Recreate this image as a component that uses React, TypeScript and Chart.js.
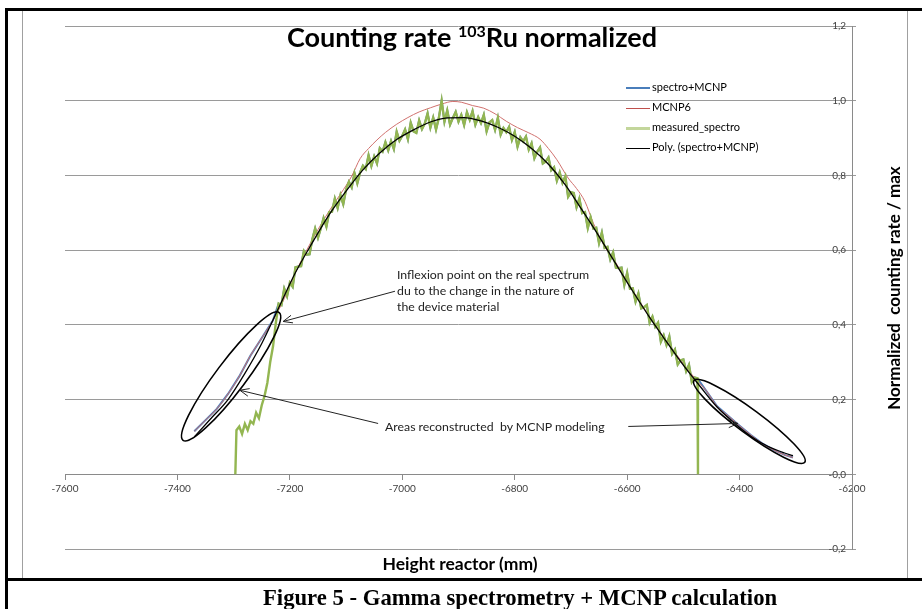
import React, { useEffect, useRef } from 'react';
import { Chart, registerables } from 'chart.js';

Chart.register(...registerables);

// ---- axes ----
const X_MIN = -7600;
const X_MAX = -6200;
const X_STEP = 200;
const Y_MIN = -0.2;
const Y_MAX = 1.2;
const Y_STEP = 0.2;

// ---- MCNP6 calculation ----
const mcnpHeights = [-7370, -7350, -7330, -7310, -7290, -7270, -7250, -7230, -7210, -7190, -7170, -7150, -7130, -7110, -7090, -7075, -7060, -7045, -7030, -7010, -6990, -6970, -6950, -6930, -6910, -6895, -6875, -6855, -6835, -6815, -6795, -6775, -6755, -6740, -6725, -6705, -6690, -6675, -6660, -6640, -6620, -6600, -6580, -6560, -6540, -6520, -6500, -6480, -6460, -6440, -6420, -6400, -6380, -6360, -6340, -6320, -6305];
const mcnpValues = [0.115, 0.145, 0.175, 0.215, 0.262, 0.318, 0.365, 0.412, 0.470, 0.540, 0.600, 0.655, 0.705, 0.750, 0.798, 0.845, 0.872, 0.895, 0.915, 0.937, 0.955, 0.970, 0.981, 0.991, 0.998, 0.996, 0.987, 0.980, 0.965, 0.945, 0.928, 0.914, 0.897, 0.872, 0.842, 0.793, 0.765, 0.730, 0.672, 0.610, 0.566, 0.516, 0.468, 0.422, 0.378, 0.336, 0.296, 0.258, 0.225, 0.182, 0.156, 0.130, 0.105, 0.083, 0.066, 0.052, 0.045];

// ---- polynomial trend of spectro+MCNP ----
const polyHeights = [-7370, -7340, -7310, -7280, -7250, -7220, -7190, -7160, -7130, -7100, -7070, -7040, -7010, -6980, -6950, -6920, -6890, -6860, -6830, -6800, -6770, -6740, -6710, -6680, -6650, -6620, -6590, -6560, -6530, -6500, -6470, -6440, -6410, -6380, -6350, -6320, -6305];
const polyValues = [0.10, 0.15, 0.20, 0.27, 0.35, 0.445, 0.54, 0.62, 0.695, 0.758, 0.815, 0.860, 0.896, 0.922, 0.943, 0.954, 0.955, 0.946, 0.929, 0.905, 0.872, 0.830, 0.775, 0.707, 0.637, 0.563, 0.490, 0.420, 0.355, 0.292, 0.235, 0.180, 0.138, 0.102, 0.075, 0.057, 0.050];

// ---- measured spectrometry ----
const measuredLeftHeights = [-7297, -7295, -7290, -7285, -7280, -7275, -7270, -7265, -7260, -7255, -7250, -7245, -7240, -7235, -7230, -7225];
const measuredLeftValues = [0, 0.118, 0.128, 0.108, 0.135, 0.118, 0.142, 0.135, 0.165, 0.150, 0.185, 0.210, 0.245, 0.300, 0.342, 0.405];
const measuredStartHeight = -7220;
const measuredStepHeight = 5;
const measuredValues = [
  0.457, 0.453, 0.497, 0.477, 0.513, 0.502, 0.554, 0.556, 0.557, 0.598,
  0.588, 0.589, 0.629, 0.658, 0.633, 0.658, 0.686, 0.663, 0.702, 0.703,
  0.738, 0.713, 0.747, 0.723, 0.762, 0.783, 0.768, 0.806, 0.779, 0.808,
  0.826, 0.817, 0.854, 0.825, 0.851, 0.832, 0.873, 0.864, 0.889, 0.867,
  0.892, 0.871, 0.917, 0.893, 0.906, 0.923, 0.897, 0.941, 0.918, 0.914,
  0.947, 0.924, 0.939, 0.966, 0.928, 0.955, 0.923, 0.954, 1.000, 0.944,
  0.974, 0.936, 0.954, 0.970, 0.944, 0.962, 0.935, 0.969, 0.949, 0.972,
  0.936, 0.956, 0.940, 0.962, 0.918, 0.942, 0.948, 0.922, 0.954, 0.909,
  0.927, 0.916, 0.930, 0.895, 0.916, 0.877, 0.902, 0.891, 0.904, 0.869,
  0.886, 0.846, 0.863, 0.875, 0.832, 0.837, 0.848, 0.814, 0.822, 0.786,
  0.808, 0.780, 0.798, 0.743, 0.755, 0.753, 0.715, 0.738, 0.699, 0.702,
  0.659, 0.688, 0.658, 0.660, 0.619, 0.647, 0.606, 0.609, 0.575, 0.594,
  0.553, 0.552, 0.553, 0.507, 0.539, 0.497, 0.498, 0.462, 0.484, 0.444,
  0.447, 0.453, 0.406, 0.422, 0.395, 0.406, 0.355, 0.372, 0.346, 0.369,
  0.322, 0.334, 0.294, 0.305, 0.307, 0.276, 0.293, 0.247, 0.259, 0.257,
];
const measuredRightHeights = [-6474];
const measuredRightValues = [0];

// ---- annotations (data coordinates) ----
const ellipseNotes = [
  { from: [-7390, 0.091], to: [-7219, 0.433], halfWidth: 15 },
  { from: [-6481, 0.251], to: [-6284, 0.032], halfWidth: 12 },
];
const arrowNotes = [
  { from: [-7013, 0.49], to: [-7212, 0.409] },
  { from: [-7043, 0.136], to: [-7289, 0.225] },
  { from: [-6598, 0.128], to: [-6403, 0.136] },
];

const legendItems = [
  { label: 'spectro+MCNP', color: '#4A7EBB', width: 2 },
  { label: 'MCNP6', color: '#C0504D', width: 1 },
  { label: 'measured_spectro', color: '#C3D69B', width: 3 },
  { label: 'Poly. (spectro+MCNP)', color: '#000000', width: 1.2 },
];

type P = { x: number; y: number };
const zip = (xs: number[], ys: number[]): P[] => xs.map((x, i) => ({ x, y: ys[i] }));

const measuredMain: P[] = measuredValues.map((y, i) => ({ x: measuredStartHeight + i * measuredStepHeight, y }));
const measuredPoints: P[] = [
  ...zip(measuredLeftHeights, measuredLeftValues),
  ...measuredMain,
  ...zip(measuredRightHeights, measuredRightValues),
];
const mcnpPoints = zip(mcnpHeights, mcnpValues);
const spectroMcnpPoints: P[] = [
  ...mcnpPoints.filter((p) => p.x < measuredStartHeight),
  ...measuredMain,
  ...mcnpPoints.filter((p) => p.x > measuredStartHeight + (measuredValues.length - 1) * measuredStepHeight),
];
const polyPoints = zip(polyHeights, polyValues);

const notesPlugin = {
  id: 'notes',
  afterDatasetsDraw(chart: any) {
    const { ctx } = chart;
    const xs = chart.scales.x;
    const ys = chart.scales.y;
    const px = (v: number[]) => [xs.getPixelForValue(v[0]), ys.getPixelForValue(v[1])];
    ctx.save();
    ctx.strokeStyle = '#000';
    ctx.lineWidth = 1.6;
    for (const e of ellipseNotes) {
      const [x1, y1] = px(e.from);
      const [x2, y2] = px(e.to);
      ctx.beginPath();
      ctx.ellipse((x1 + x2) / 2, (y1 + y2) / 2, Math.hypot(x2 - x1, y2 - y1) / 2, e.halfWidth, Math.atan2(y2 - y1, x2 - x1), 0, Math.PI * 2);
      ctx.stroke();
    }
    ctx.strokeStyle = '#222';
    ctx.lineWidth = 1;
    for (const a of arrowNotes) {
      const [x1, y1] = px(a.from);
      const [x2, y2] = px(a.to);
      const ang = Math.atan2(y2 - y1, x2 - x1);
      ctx.beginPath();
      ctx.moveTo(x1, y1);
      ctx.lineTo(x2, y2);
      const L = 10;
      ctx.moveTo(x2 - L * Math.cos(ang - 0.4), y2 - L * Math.sin(ang - 0.4));
      ctx.lineTo(x2, y2);
      ctx.lineTo(x2 - L * Math.cos(ang + 0.4), y2 - L * Math.sin(ang + 0.4));
      ctx.stroke();
    }
    ctx.restore();
  },
};

export default function App() {
  const canvasRef = useRef<HTMLCanvasElement>(null);

  useEffect(() => {
    Chart.defaults.font.family = 'Lato, sans-serif';
    const chart = new Chart(canvasRef.current as HTMLCanvasElement, {
      type: 'line',
      data: {
        datasets: [
          { label: 'spectro+MCNP', data: spectroMcnpPoints, borderColor: '#4A7EBB', borderWidth: 2, pointRadius: 0, tension: 0, order: 4 },
          { label: 'MCNP6', data: mcnpPoints, borderColor: '#D0716E', borderWidth: 1, pointRadius: 0, cubicInterpolationMode: 'monotone', order: 3 },
          { label: 'measured_spectro', data: measuredPoints, borderColor: '#93B651', borderWidth: 2.4, pointRadius: 0, tension: 0, order: 2 },
          { label: 'Poly. (spectro+MCNP)', data: polyPoints, borderColor: '#000000', borderWidth: 1.3, pointRadius: 0, cubicInterpolationMode: 'monotone', order: 1 },
        ],
      },
      options: {
        responsive: false,
        maintainAspectRatio: false,
        devicePixelRatio: 1,
        animation: false,
        layout: { padding: { left: 65, right: 66, top: 26, bottom: 60 } },
        plugins: { legend: { display: false }, tooltip: { enabled: false }, title: { display: false } },
        scales: {
          x: {
            type: 'linear',
            min: X_MIN,
            max: X_MAX,
            position: { y: 0 } as any,
            ticks: { stepSize: X_STEP, color: '#404040', font: { size: 10 }, padding: 3, maxRotation: 0, callback: (v: any) => String(v) },
            grid: { display: true, drawOnChartArea: false, drawTicks: true, tickLength: 5, color: '#8a8a8a' },
            border: { display: true, color: '#8a8a8a' },
          },
          y: {
            type: 'linear',
            position: 'right',
            min: Y_MIN,
            max: Y_MAX,
            afterFit: (scale: any) => { scale.width = 4; },
            ticks: { stepSize: Y_STEP, mirror: true, padding: -6, color: '#404040', font: { size: 10 }, callback: (v: any) => Number(v).toFixed(1).replace('.', ',') },
            grid: { color: '#9a9a9a', drawTicks: true, tickLength: 4 },
            border: { display: true, color: '#8a8a8a' },
          },
        },
      },
      plugins: [notesPlugin],
    } as any);
    return () => chart.destroy();
  }, []);

  const abs = (s: React.CSSProperties): React.CSSProperties => ({ position: 'absolute', whiteSpace: 'pre', ...s });

  return (
    <div style={{ position: 'fixed', left: 0, top: 0, width: 922, height: 609, background: '#fff', overflow: 'hidden', fontFamily: 'Lato, sans-serif', color: '#000' }}>
      <canvas ref={canvasRef} width={922} height={609} style={{ position: 'absolute', left: 0, top: 0, width: 922, height: 609 }} />
      {/* frame */}
      <div style={abs({ left: 5, top: 8, width: 917, height: 3, background: '#000' })} />
      <div style={abs({ left: 5, top: 8, width: 3, height: 601, background: '#000' })} />
      <div style={abs({ left: 5, top: 578, width: 917, height: 3, background: '#000' })} />
      <div style={abs({ left: 22, top: 11, width: 0, height: 567, borderLeft: '1px solid #a0a0a0' })} />
      <div style={abs({ left: 907, top: 11, width: 0, height: 567, borderLeft: '1px solid #a0a0a0' })} />
      {/* title */}
      <div style={abs({ left: 472, top: 23, transform: 'translateX(-50%)', fontSize: 27, lineHeight: '27px', fontWeight: 700 })}>
        Counting rate <span style={{ fontSize: 16, position: 'relative', top: -10 }}>103</span>Ru normalized
      </div>
      {/* legend */}
      {legendItems.map((it, i) => (
        <div key={it.label} style={abs({ left: 626, top: 80 + i * 20, height: 14, fontSize: 11, lineHeight: '14px' })}>
          <span style={{ display: 'inline-block', width: 24, height: 0, borderTop: `${it.width}px solid ${it.color}`, verticalAlign: 'middle', marginRight: 2 }} />
          {it.label}
        </div>
      ))}
      {/* notes */}
      <div style={abs({ left: 397, top: 267, fontSize: 12.3, lineHeight: '16px', color: '#222' })}>
        {'Inflexion point on the real spectrum\ndu to the change in the nature of\nthe device material'}
      </div>
      <div style={abs({ left: 385, top: 419, fontSize: 12.3, lineHeight: '16px', color: '#222' })}>
        {'Areas reconstructed  by MCNP modeling'}
      </div>
      {/* axis titles */}
      <div style={abs({ left: 460, top: 563, transform: 'translate(-50%, -50%)', fontSize: 17.5, fontWeight: 700 })}>Height reactor (mm)</div>
      <div style={abs({ left: 893, top: 288, transform: 'translate(-50%, -50%) rotate(-90deg)', fontSize: 17, fontWeight: 700 })}>Normalized  counting rate / max</div>
      {/* caption */}
      <div style={abs({ left: 263, top: 585, fontFamily: '"Liberation Serif", serif', fontSize: 24, lineHeight: '24px', fontWeight: 700, transform: 'scaleX(0.945)', transformOrigin: 'left center' })}>
        Figure 5 - Gamma spectrometry + MCNP calculation
      </div>
    </div>
  );
}
